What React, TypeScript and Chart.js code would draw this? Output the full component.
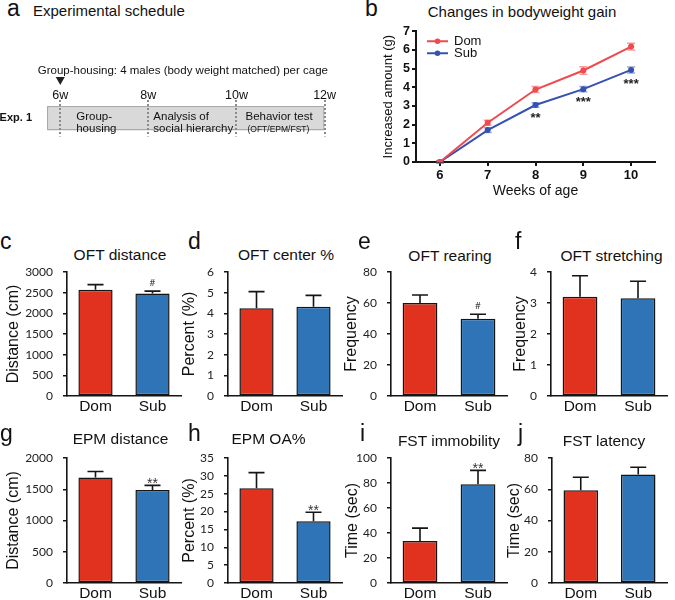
import React, { useEffect, useRef } from 'react';
import { Chart, registerables } from 'chart.js';

Chart.register(...registerables);

const SANS = '"Liberation Sans", Arial, Helvetica, sans-serif';
const TICK = 'Lato, "Liberation Sans", sans-serif';
Chart.defaults.font.family = SANS;
Chart.defaults.color = '#111';

// ---------- Panel a: schedule ----------
const scheduleWeeks = [6, 8, 10, 12];
const scheduleSpan: [number, number] = [5.7, 12];
const scheduleAxisMin = 5.7;
const scheduleAxisMax = 12.1;
const expLabels = ['Exp. 1'];
const phaseStarts = [6, 8, 10];
const phaseLines = [
  ['Group-', 'housing'],
  ['Analysis of', 'social hierarchy'],
  ['Behavior test', '(OFT/EPM/FST)'],
];
const groupNote = 'Group-housing: 4 males (body weight matched) per cage';
const noteWeek = 6;

// ---------- Panel b: bodyweight gain ----------
const weekLabels = ['6', '7', '8', '9', '10'];
const domGain = [0, 2.1, 3.88, 4.9, 6.18];
const domGainErr = [0.06, 0.13, 0.16, 0.2, 0.18];
const subGain = [0, 1.71, 3.05, 3.9, 4.93];
const subGainErr = [0.06, 0.13, 0.12, 0.14, 0.16];
const gainStars = ['', '', '**', '***', '***'];
const gainStarLevel = [0, 0, 2.5, 3.37, 4.33];

// ---------- Panels c-j: bar charts ----------
const groups = ['Dom', 'Sub'];
const oftDistance = [2570, 2480];
const oftDistanceErr = [125, 58];
const oftDistanceSig = ['', '#'];
const oftCenter = [4.25, 4.32];
const oftCenterErr = [0.8, 0.55];
const oftCenterSig = ['', ''];
const oftRearing = [60, 49.8];
const oftRearingErr = [5.2, 2.9];
const oftRearingSig = ['', '#'];
const oftStretching = [3.2, 3.15];
const oftStretchingErr = [0.68, 0.55];
const oftStretchingSig = ['', ''];
const epmDistance = [1690, 1490];
const epmDistanceErr = [95, 72];
const epmDistanceSig = ['', '**'];
const epmOA = [26.5, 17.3];
const epmOAErr = [4.4, 2.5];
const epmOASig = ['', '**'];
const fstImmobility = [33.6, 79.1];
const fstImmobilityErr = [10.3, 11];
const fstImmobilitySig = ['', '**'];
const fstLatency = [59.4, 69.5];
const fstLatencyErr = [8.3, 4.6];
const fstLatencySig = ['', ''];

const BAR_RED = '#e0321f';
const BAR_BLUE = '#2e74b7';
const LINE_RED = '#ef4a4d';
const LINE_BLUE = '#3552b3';
const INK = '#151515';

type BarPanel = {
  letter: string; letterX: number; title: string; titleX: number; titleY: number;
  row: number; canvasLeft: number; plotLeft: number; plotRight: number;
  values: number[]; errs: number[]; sig: string[]; max: number; step: number; yTitle: string;
};

const rows = [
  { canvasTop: 256, padTop: 10, xh: 25, height: 165, letterTop: 229.5 },
  { canvasTop: 442, padTop: 10, xh: 17, height: 158, letterTop: 421.5 },
];

const barPanels: BarPanel[] = [
  { letter: 'c', letterX: 0, title: 'OFT distance', titleX: 120, titleY: 255, row: 0, canvasLeft: 6, plotLeft: 67, plotRight: 181, values: oftDistance, errs: oftDistanceErr, sig: oftDistanceSig, max: 3000, step: 500, yTitle: 'Distance (cm)' },
  { letter: 'd', letterX: 188, title: 'OFT center %', titleX: 286, titleY: 255, row: 0, canvasLeft: 182, plotLeft: 228, plotRight: 342, values: oftCenter, errs: oftCenterErr, sig: oftCenterSig, max: 6, step: 1, yTitle: 'Percent (%)' },
  { letter: 'e', letterX: 358, title: 'OFT rearing', titleX: 450, titleY: 255.5, row: 0, canvasLeft: 344, plotLeft: 391, plotRight: 507, values: oftRearing, errs: oftRearingErr, sig: oftRearingSig, max: 80, step: 20, yTitle: 'Frequency' },
  { letter: 'f', letterX: 515, title: 'OFT stretching', titleX: 611.5, titleY: 255.5, row: 0, canvasLeft: 513, plotLeft: 551, plotRight: 667, values: oftStretching, errs: oftStretchingErr, sig: oftStretchingSig, max: 4, step: 1, yTitle: 'Frequency' },
  { letter: 'g', letterX: 0, title: 'EPM distance', titleX: 120.5, titleY: 439, row: 1, canvasLeft: 6, plotLeft: 67, plotRight: 181, values: epmDistance, errs: epmDistanceErr, sig: epmDistanceSig, max: 2000, step: 500, yTitle: 'Distance (cm)' },
  { letter: 'h', letterX: 188, title: 'EPM OA%', titleX: 268.5, titleY: 439, row: 1, canvasLeft: 182, plotLeft: 228, plotRight: 342, values: epmOA, errs: epmOAErr, sig: epmOASig, max: 35, step: 5, yTitle: 'Percent (%)' },
  { letter: 'i', letterX: 360, title: 'FST immobility', titleX: 449, titleY: 441, row: 1, canvasLeft: 345, plotLeft: 391, plotRight: 507, values: fstImmobility, errs: fstImmobilityErr, sig: fstImmobilitySig, max: 100, step: 20, yTitle: 'Time (sec)' },
  { letter: 'j', letterX: 518, title: 'FST latency', titleX: 604, titleY: 441, row: 1, canvasLeft: 507, plotLeft: 552, plotRight: 667, values: fstLatency, errs: fstLatencyErr, sig: fstLatencySig, max: 80, step: 20, yTitle: 'Time (sec)' },
];

function ChartBox(props: { left: number; top: number; width: number; height: number; make: () => any }) {
  const ref = useRef<HTMLCanvasElement>(null);
  useEffect(() => {
    const chart = new Chart(ref.current as HTMLCanvasElement, props.make());
    return () => chart.destroy();
  }, []);
  return (
    <canvas
      ref={ref}
      width={props.width}
      height={props.height}
      style={{ position: 'absolute', left: props.left, top: props.top, width: props.width, height: props.height, display: 'block' }}
    />
  );
}

function makeBarConfig(p: BarPanel) {
  const row = rows[p.row];
  const errPlugin = {
    id: 'errBars',
    afterDatasetsDraw(chart: any) {
      const ctx = chart.ctx;
      const y = chart.scales.y;
      const meta = chart.getDatasetMeta(0);
      const vals = chart.data.datasets[0].data as number[];
      ctx.save();
      meta.data.forEach((bar: any, i: number) => {
        const x = bar.x;
        const y0 = y.getPixelForValue(vals[i]);
        const y1 = y.getPixelForValue(vals[i] + p.errs[i]);
        ctx.strokeStyle = INK;
        ctx.lineWidth = 1.6;
        ctx.beginPath();
        ctx.moveTo(x, y0);
        ctx.lineTo(x, y1);
        ctx.moveTo(x - 8, y1);
        ctx.lineTo(x + 8, y1);
        ctx.stroke();
        const s = p.sig[i];
        if (s) {
          ctx.textAlign = 'center';
          ctx.textBaseline = 'alphabetic';
          if (s === '#') {
            ctx.fillStyle = '#444';
            ctx.font = '10px ' + TICK;
            ctx.fillText(s, x, y1 - 5);
          } else {
            ctx.fillStyle = '#333';
            ctx.font = '14px ' + SANS;
            ctx.fillText(s, x, y1 + 3);
          }
        }
      });
      ctx.restore();
    },
  };
  return {
    type: 'bar',
    data: {
      labels: groups,
      datasets: [{
        data: p.values,
        backgroundColor: [BAR_RED, BAR_BLUE],
        borderColor: INK,
        borderWidth: 1.5,
        borderSkipped: false,
        barPercentage: 0.6,
        categoryPercentage: 1,
      }],
    },
    options: {
      responsive: false,
      animation: false,
      events: [],
      layout: { padding: { top: row.padTop, right: 5, left: 0, bottom: 0 } },
      plugins: { legend: { display: false }, tooltip: { enabled: false } },
      scales: {
        x: {
          grid: { display: true, drawOnChartArea: false, drawTicks: false },
          border: { color: INK, width: 1.6 },
          ticks: { color: '#111', font: { family: SANS, size: 15.5, lineHeight: 1 }, padding: 3 },
          afterFit: (s: any) => { s.height = row.xh; },
        },
        y: {
          min: 0,
          max: p.max,
          ticks: { stepSize: p.step, color: '#222', font: { family: TICK, size: 12, lineHeight: 1 }, padding: 10, callback: (v: any) => String(v) },
          grid: { drawOnChartArea: false, drawTicks: true, tickLength: 4, color: INK, lineWidth: 1.5 },
          border: { color: INK, width: 1.6 },
          title: { display: true, text: p.yTitle, color: '#111', font: { family: SANS, size: 16, lineHeight: 1 }, padding: 0 },
          afterFit: (s: any) => { s.width = p.plotLeft - p.canvasLeft; },
        },
      },
    },
    plugins: [errPlugin],
  };
}

function makeLineConfig() {
  const decoPlugin = {
    id: 'lineDeco',
    beforeDatasetsDraw(chart: any) {
      const ctx = chart.ctx;
      const y = chart.scales.y;
      const sets = [
        { vals: domGain, errs: domGainErr, color: 'rgba(239,74,77,0.55)', meta: chart.getDatasetMeta(0) },
        { vals: subGain, errs: subGainErr, color: 'rgba(53,82,179,0.5)', meta: chart.getDatasetMeta(1) },
      ];
      ctx.save();
      sets.forEach((s) => {
        ctx.strokeStyle = s.color;
        ctx.lineWidth = 1.5;
        s.meta.data.forEach((pt: any, i: number) => {
          const x = pt.x;
          const yt = y.getPixelForValue(s.vals[i] + s.errs[i]);
          const yb = y.getPixelForValue(s.vals[i] - s.errs[i]);
          ctx.beginPath();
          ctx.moveTo(x, yt); ctx.lineTo(x, yb);
          ctx.moveTo(x - 4, yt); ctx.lineTo(x + 4, yt);
          ctx.moveTo(x - 4, yb); ctx.lineTo(x + 4, yb);
          ctx.stroke();
        });
      });
      ctx.restore();
    },
    afterDatasetsDraw(chart: any) {
      const ctx = chart.ctx;
      const y = chart.scales.y;
      const meta = chart.getDatasetMeta(1);
      const area = chart.chartArea;
      ctx.save();
      ctx.fillStyle = '#222';
      ctx.font = 'bold 13px ' + SANS;
      ctx.textAlign = 'center';
      ctx.textBaseline = 'middle';
      gainStars.forEach((s, i) => {
        if (!s) return;
        ctx.fillText(s, meta.data[i].x, y.getPixelForValue(gainStarLevel[i]) + 3);
      });
      // legend
      const items = [
        { label: chart.data.datasets[0].label, color: LINE_RED },
        { label: chart.data.datasets[1].label, color: LINE_BLUE },
      ];
      items.forEach((it, k) => {
        const ly = area.top + 10 + k * 12;
        const lx = area.left + 11;
        ctx.strokeStyle = it.color;
        ctx.lineWidth = 2;
        ctx.beginPath();
        ctx.moveTo(lx, ly); ctx.lineTo(lx + 21, ly);
        ctx.stroke();
        ctx.fillStyle = it.color;
        ctx.beginPath();
        ctx.arc(lx + 10.5, ly, 2.8, 0, Math.PI * 2);
        ctx.fill();
        ctx.fillStyle = '#111';
        ctx.font = '13px ' + SANS;
        ctx.textAlign = 'left';
        ctx.textBaseline = 'middle';
        ctx.fillText(it.label, lx + 27, ly + 0.5);
      });
      ctx.restore();
    },
  };
  return {
    type: 'line',
    data: {
      labels: weekLabels,
      datasets: [
        { label: 'Dom', data: domGain, borderColor: LINE_RED, backgroundColor: LINE_RED, borderWidth: 2, pointRadius: 3, pointBorderWidth: 0, pointBackgroundColor: LINE_RED, tension: 0 },
        { label: 'Sub', data: subGain, borderColor: LINE_BLUE, backgroundColor: LINE_BLUE, borderWidth: 2, pointRadius: 3, pointBorderWidth: 0, pointBackgroundColor: LINE_BLUE, tension: 0 },
      ],
    },
    options: {
      responsive: false,
      animation: false,
      events: [],
      layout: { padding: { top: 8, right: 5, left: 0, bottom: 0 } },
      plugins: { legend: { display: false }, tooltip: { enabled: false } },
      scales: {
        x: {
          offset: true,
          grid: { offset: false, drawOnChartArea: false, drawTicks: true, tickLength: 4, color: INK, lineWidth: 2 },
          border: { color: INK, width: 2 },
          ticks: { color: '#111', font: { family: SANS, size: 13, weight: 'bold', lineHeight: 1 }, padding: 3 },
          title: { display: true, text: 'Weeks of age', color: '#111', font: { family: SANS, size: 14, lineHeight: 1 }, padding: { top: 0, bottom: 4 } },
          afterFit: (s: any) => { s.height = 40; },
        },
        y: {
          min: 0,
          max: 7,
          ticks: { stepSize: 1, color: '#111', font: { family: SANS, size: 12.5, weight: 'bold', lineHeight: 1 }, padding: 2 },
          grid: { drawOnChartArea: false, drawTicks: true, tickLength: 4, color: INK, lineWidth: 2 },
          border: { color: INK, width: 2 },
          title: { display: true, text: 'Increased amount (g)', color: '#111', font: { family: SANS, size: 13, lineHeight: 1 }, padding: 0 },
          afterFit: (s: any) => { s.width = 34; },
        },
      },
    },
    plugins: [decoPlugin],
  };
}

function makeScheduleConfig() {
  const textPlugin = {
    id: 'schedText',
    afterDraw(chart: any) {
      const ctx = chart.ctx;
      const x = chart.scales.x;
      const area = chart.chartArea;
      ctx.save();
      ctx.fillStyle = '#111';
      ctx.textAlign = 'left';
      ctx.textBaseline = 'middle';
      const offs = [16, 5, 9];
      phaseStarts.forEach((s, i) => {
        const px = x.getPixelForValue(s) + offs[i];
        ctx.font = '11.5px ' + SANS;
        ctx.fillText(phaseLines[i][0], px, area.top + 17);
        if (i === 2) {
          ctx.font = '8.5px ' + SANS;
          ctx.fillText(phaseLines[i][1], px + 2, area.top + 30);
        } else {
          ctx.fillText(phaseLines[i][1], px, area.top + 29);
        }
      });
      // note + arrow
      const nx = x.getPixelForValue(noteWeek);
      ctx.font = '11.5px ' + SANS;
      ctx.fillText(groupNote, nx - 22.5, area.top - 29);
      ctx.beginPath();
      ctx.moveTo(nx - 4.5, area.top - 23);
      ctx.lineTo(nx + 4.5, area.top - 23);
      ctx.lineTo(nx, area.top - 15);
      ctx.closePath();
      ctx.fillStyle = '#222';
      ctx.fill();
      ctx.restore();
    },
  };
  return {
    type: 'bar',
    data: {
      labels: expLabels,
      datasets: [{
        data: [scheduleSpan],
        backgroundColor: '#d9d9d9',
        borderColor: '#a9a9a9',
        borderWidth: 1.5,
        borderSkipped: false,
        barPercentage: 0.67,
        categoryPercentage: 1,
      }],
    },
    options: {
      indexAxis: 'y',
      responsive: false,
      animation: false,
      events: [],
      layout: { padding: { top: 0, right: 11, left: 0, bottom: 4 } },
      plugins: { legend: { display: false }, tooltip: { enabled: false } },
      scales: {
        x: {
          type: 'linear',
          position: 'top',
          min: scheduleAxisMin,
          max: scheduleAxisMax,
          afterBuildTicks: (s: any) => { s.ticks = scheduleWeeks.map((v) => ({ value: v })); },
          ticks: { callback: (v: any) => v + 'w', color: '#111', font: { family: SANS, size: 12.5, lineHeight: 1 }, padding: -2 },
          grid: { drawTicks: false, color: '#8a8a8a', lineWidth: 2, z: 1 },
          border: { display: false, dash: [2, 2] },
          afterFit: (s: any) => { s.height = 40; },
        },
        y: {
          grid: { display: false },
          border: { display: false },
          ticks: { color: '#111', font: { family: SANS, size: 11, weight: 'bold' }, padding: 7 },
          afterFit: (s: any) => { s.width = 47; },
        },
      },
    },
    plugins: [textPlugin],
  };
}

const letterStyle = (left: number, top: number): React.CSSProperties => ({
  position: 'absolute', left, top, fontFamily: SANS, fontSize: 23, lineHeight: 1, color: '#111', whiteSpace: 'nowrap',
});

export default function App() {
  return (
    <div style={{ position: 'absolute', left: 0, top: 0, width: 675, height: 600, background: '#fff', overflow: 'hidden' }}>
      <div style={letterStyle(7, -3.5)}>a</div>
      <div style={{ position: 'absolute', left: 33, top: 3.3, fontFamily: SANS, fontSize: 15, lineHeight: 1, color: '#111', whiteSpace: 'nowrap' }}>Experimental schedule</div>
      <ChartBox left={0} top={60} width={340} height={90} make={makeScheduleConfig} />

      <div style={letterStyle(365, -3.5)}>b</div>
      <div style={{ position: 'absolute', left: 522, top: 3.8, transform: 'translateX(-50%)', fontFamily: SANS, fontSize: 15, lineHeight: 1, color: '#111', whiteSpace: 'nowrap' }}>Changes in bodyweight gain</div>
      <ChartBox left={382} top={23} width={278} height={179} make={makeLineConfig} />

      {barPanels.map((p) => {
        const row = rows[p.row];
        return (
          <React.Fragment key={p.letter}>
            <div style={letterStyle(p.letterX, row.letterTop)}>{p.letter}</div>
            <div style={{ position: 'absolute', left: p.titleX, top: p.titleY - 7.6, transform: 'translateX(-50%)', fontFamily: SANS, fontSize: 15.5, lineHeight: 1, color: '#111', whiteSpace: 'nowrap' }}>{p.title}</div>
            <ChartBox left={p.canvasLeft} top={row.canvasTop} width={p.plotRight - p.canvasLeft + 5} height={row.height} make={() => makeBarConfig(p)} />
          </React.Fragment>
        );
      })}
    </div>
  );
}
